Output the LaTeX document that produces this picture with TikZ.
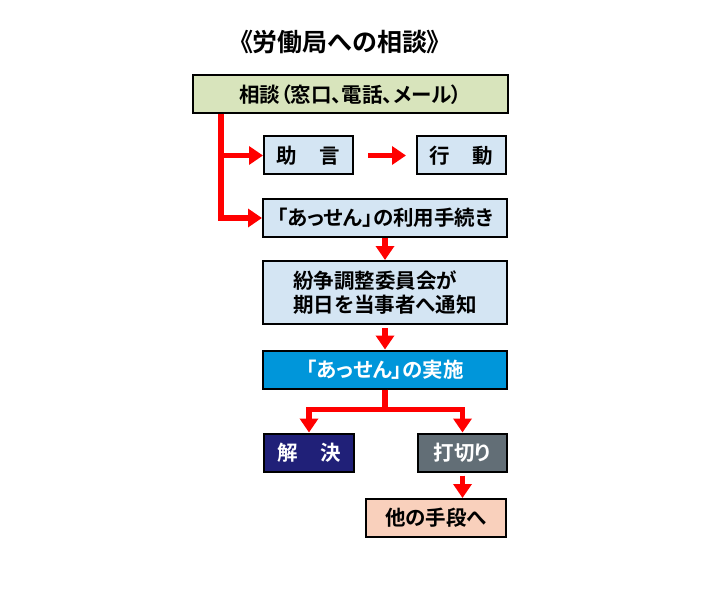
\documentclass[tikz,border=0pt]{standalone}
\usepackage{fontspec}
\setmainfont{Noto Sans CJK JP}[BoldFont={Noto Sans CJK JP Bold}, CharacterWidth=AlternateProportional]
\usetikzlibrary{arrows.meta}
\definecolor{kusa}{RGB}{216,228,188}
\definecolor{mizu}{RGB}{212,229,243}
\definecolor{ao}{RGB}{0,150,218}
\definecolor{kon}{RGB}{32,32,120}
\definecolor{hai}{RGB}{98,110,118}
\definecolor{momo}{RGB}{249,208,188}
\begin{document}
\begin{tikzpicture}[x=1bp, y=-1bp, font=\bfseries\fontsize{20.5bp}{24bp}\selectfont, line join=miter,
	box/.style={draw=black, line width=2bp, inner sep=0pt, minimum height=38bp},
	yaji/.style={draw=red, line width=5.5bp, -{Triangle[width=18bp,length=14bp]}}]
	\useasboundingbox (0,0) rectangle (720,592);
	% タイトル
	\node (title) at (340,42) {\fontsize{25bp}{30bp}\selectfont 《労働局への相談》};
	% 箱
	\node[box, fill=kusa, minimum width=315bp] (soudan) at (350.5,94.5) {相談（窓口、電話、メール）};
	\node[box, fill=mizu, minimum width=89bp] (jogen) at (308.5,155.5) {助\hspace{1.1em}言};
	\node[box, fill=mizu, minimum width=89bp] (koudou) at (461.5,155.5) {行\hspace{1.1em}動};
	\node[box, fill=mizu, minimum width=244bp] (tetsuzuki) at (385,218) {「あっせん」の利用手続き};
	\node[box, fill=mizu, minimum width=244bp, minimum height=63bp, align=left] (tsuuchi) at (385,292.5) {紛争調整委員会が\\期日を当事者へ通知};
	\node[box, fill=ao, text=white, minimum width=244bp] (jisshi) at (385,369.5) {「あっせん」の実施};
	\node[box, fill=kon, text=white, minimum width=90bp] (kaiketsu) at (309,452.5) {解\hspace{1.1em}決};
	\node[box, fill=hai, text=white, minimum width=89bp] (uchikiri) at (462.5,452.5) {打切り};
	\node[box, fill=momo, minimum width=140bp] (hoka) at (436,518) {他の手段へ};
	% 矢印
	\draw[yaji] ([xshift=29bp]soudan.south west) |- (jogen.west);
	\draw[yaji] ([xshift=29bp]soudan.south west) |- (tetsuzuki.west);
	\draw[yaji] ([xshift=14bp]jogen.east) -- ([xshift=-10bp]koudou.west);
	\draw[yaji] (tetsuzuki) -- (tsuuchi);
	\draw[yaji, shorten <=3bp] (tsuuchi) -- (jisshi);
	\draw[yaji] (jisshi.south) -- ++(0,20) -| (kaiketsu.north);
	\draw[yaji] (jisshi.south) -- ++(0,20) -| (uchikiri.north);
	\draw[yaji, shorten <=3bp] (uchikiri.south) -- (uchikiri.south |- hoka.north);
\end{tikzpicture}
\end{document}
